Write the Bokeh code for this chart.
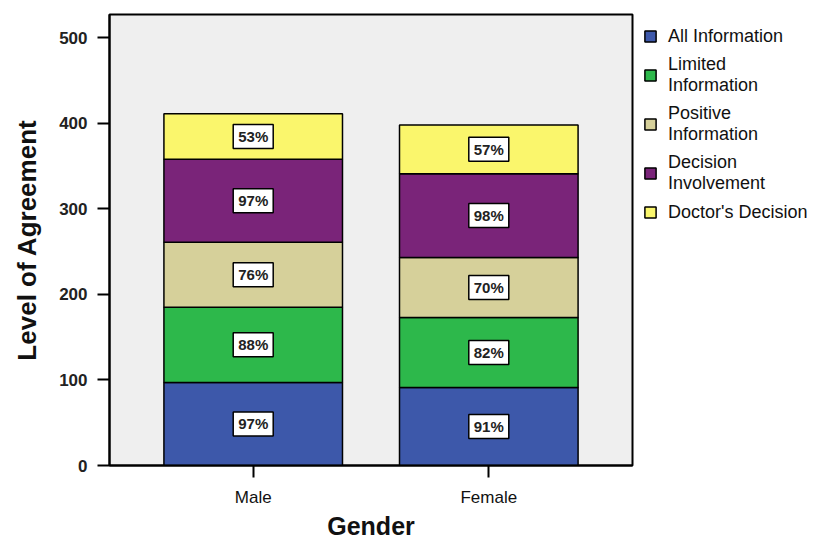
from bokeh.plotting import figure
from bokeh.models import (ColumnDataSource, FactorRange, Range1d, Legend, LegendItem,
                          FixedTicker)
from bokeh.embed import file_html
from bokeh.resources import INLINE
from bokeh.core.properties import value

# ---- data ----
genders = ["Male", "Female"]
series_keys = ["all_info", "limited_info", "positive_info", "decision_inv", "doctors_dec"]
legend_labels = ["All Information", "Limited\nInformation", "Positive\nInformation",
                 "Decision\nInvolvement", "Doctor's Decision"]
all_info = [97, 91]
limited_info = [88, 82]
positive_info = [76, 70]
decision_inv = [97, 98]
doctors_dec = [53, 57]
y_ticks = [0, 100, 200, 300, 400, 500]

colors = ["#3D58AA", "#2DB84B", "#D6D09A", "#7A2479", "#FAF66C"]

FONT = "Liberation Sans"

data = dict(gender=genders, all_info=all_info, limited_info=limited_info,
            positive_info=positive_info, decision_inv=decision_inv, doctors_dec=doctors_dec)
source = ColumnDataSource(data)

p = figure(x_range=FactorRange(*genders, range_padding=0.11, range_padding_units="absolute"),
           y_range=Range1d(0, 527),
           width=813, height=540, frame_width=523, frame_height=451,
           output_backend="svg", toolbar_location=None,
           min_border_left=109, min_border_right=181, min_border_top=14, min_border_bottom=75,
           background_fill_color="#EFEFEF", border_fill_color="white")

p.outline_line_color = "black"
p.outline_line_width = 2
p.xgrid.visible = False
p.ygrid.visible = False

renderers = p.vbar_stack(series_keys, x="gender", width=0.758, source=source,
                         color=colors, line_color="black", line_width=1.5)

# percentage labels in boxes
xs, ys, texts = [], [], []
for i, g in enumerate(genders):
    bottom = 0
    for key in series_keys:
        v = data[key][i]
        xs.append(g)
        ys.append(bottom + v / 2)
        texts.append(f"{v}%")
        bottom += v
lab_src = ColumnDataSource(dict(x=xs, y=ys, text=texts))
p.rect(x="x", y="y", width=40, height=24, width_units="screen", height_units="screen",
       source=lab_src, fill_color="white", line_color="black", line_width=1.5)
p.text(x="x", y="y", text="text", source=lab_src, text_align="center",
       text_baseline="middle", text_font=value(FONT), text_font_size="15px",
       text_font_style="bold", text_color="#222222")

# axes
p.yaxis.ticker = FixedTicker(ticks=y_ticks)
p.yaxis.minor_tick_line_color = None
p.yaxis.major_tick_out = 12
p.yaxis.major_tick_in = 0
p.yaxis.major_tick_line_width = 2
p.yaxis.axis_line_width = 2
p.yaxis.major_label_standoff = 10
p.yaxis.major_label_text_font = FONT
p.yaxis.major_label_text_font_size = "17px"
p.yaxis.major_label_text_font_style = "bold"
p.yaxis.major_label_text_color = "#222222"
p.yaxis.axis_label = "Level of Agreement"
p.yaxis.axis_label_text_font = FONT
p.yaxis.axis_label_text_font_size = "26px"
p.yaxis.axis_label_text_font_style = "bold"
p.yaxis.axis_label_text_color = "#111111"
p.yaxis.axis_label_standoff = 14

p.xaxis.major_tick_out = 12
p.xaxis.major_tick_in = 0
p.xaxis.major_tick_line_width = 2
p.xaxis.axis_line_width = 2
p.xaxis.major_label_standoff = 10
p.xaxis.major_label_text_font = FONT
p.xaxis.major_label_text_font_size = "17px"
p.xaxis.major_label_text_color = "#111111"
p.xaxis.axis_label = "Gender"
p.xaxis.axis_label_text_font = FONT
p.xaxis.axis_label_text_font_size = "25px"
p.xaxis.axis_label_text_font_style = "bold"
p.xaxis.axis_label_text_color = "#111111"
p.xaxis.axis_label_standoff = 2

# legend (right side panel)
items = [LegendItem(label=lab, renderers=[r]) for lab, r in zip(legend_labels, renderers)]
legend = Legend(items=items, location="top_left", padding=0, margin=11,
                glyph_width=14, glyph_height=14, label_height=22, spacing=7,
                label_standoff=11, label_text_font=FONT, label_text_font_size="18px",
                label_text_color="#111111", label_text_line_height=1.2,
                border_line_color=None, background_fill_alpha=0)
p.add_layout(legend, "right")

open("out.html", "w").write(file_html(p, INLINE))
